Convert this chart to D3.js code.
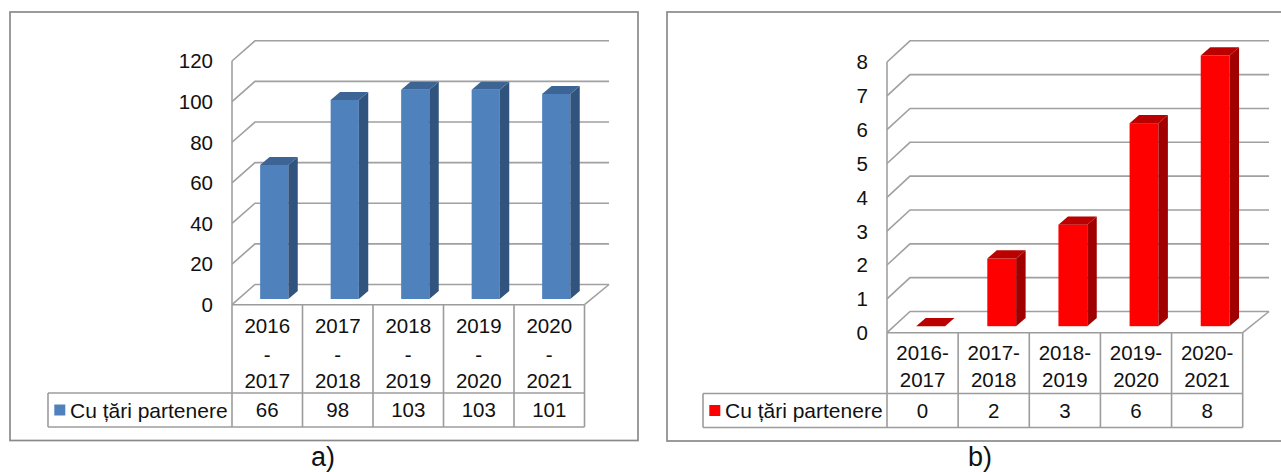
<!DOCTYPE html>
<html><head><meta charset="utf-8">
<script src="https://cdn.jsdelivr.net/npm/d3@7"></script>
<style>html,body{margin:0;padding:0;background:#fff;overflow:hidden}svg{display:block}text{font-family:"Liberation Sans",Arial,sans-serif;fill:#111}</style>
</head><body><svg id="c" width="1281" height="472"></svg>
<script>
const seriesName = "Cu țări partenere";
const categoriesA = [["2016","-","2017"],["2017","-","2018"],["2018","-","2019"],["2019","-","2020"],["2020","-","2021"]];
const valuesA = [66,98,103,103,101];
const ticksA = [0,20,40,60,80,100,120];
const categoriesB = [["2016-","2017"],["2017-","2018"],["2018-","2019"],["2019-","2020"],["2020-","2021"]];
const valuesB = [0,2,3,6,8];
const ticksB = [0,1,2,3,4,5,6,7,8];

const svg = d3.select("#c");
const GRID = "#a0a0a0", FRAME = "#8a8a8a", TABLE = "#9c9c9c";

function panel(o){
  const g = svg.append("g");
  const line = (x1,y1,x2,y2,c,w)=>g.append("line").attr("x1",x1).attr("y1",y1).attr("x2",x2).attr("y2",y2).attr("stroke",c).attr("stroke-width",w);
  g.append("rect").attr("x",o.frame[0]).attr("y",o.frame[1]).attr("width",o.frame[2]-o.frame[0]).attr("height",o.frame[3]-o.frame[1])
    .attr("fill","#fff").attr("stroke",FRAME).attr("stroke-width",1.7);

  const x = d3.scaleBand().domain(o.cats.map((d,i)=>i)).range([o.left,o.right]).padding(0);
  const y = d3.scaleLinear().domain([0,d3.max(o.ticks)]).range([o.bottom,o.top]);
  const back = o.ddx, rise = o.ddy;
  // walls
  o.ticks.forEach(t=>{
    const yy = y(t);
    g.append("path").attr("fill","none").attr("stroke",GRID).attr("stroke-width",1.6)
      .attr("d",d3.line()([[o.left,yy],[o.left+back,yy-rise],[o.backRight,yy-rise]]));
  });
  line(o.left,o.top,o.left,o.bottom,GRID,1.6);
  g.append("path").attr("fill","none").attr("stroke",GRID).attr("stroke-width",1.6)
    .attr("d",d3.line()([[o.right,o.bottom],[o.backRight,o.bottom-rise]]));
  // axis labels
  g.selectAll(".yl").data(o.ticks).join("text").attr("class","yl")
    .attr("x",o.left-19).attr("y",d=>y(d)).attr("dy","0.36em").attr("text-anchor","end").attr("font-size",o.fs).text(d=>d);
  // bars
  const bw = x.bandwidth()*o.barFrac;
  const offX = o.barOff, offY = o.barRise, bdx = o.bdx, bdy = o.bdy;
  const bars = g.selectAll(".bar").data(o.vals).join("g").attr("class","bar");
  const k = (y(0)-y(1));
  bars.each(function(v,i){
    const b = d3.select(this);
    const x0 = x(i)+(x.bandwidth()-bw)/2+offX, x1 = x0+bw;
    const y0 = y(0)-offY, yt = y0-v*k;
    if(v>0){
      b.append("rect").attr("x",x0).attr("y",yt).attr("width",bw).attr("height",y0-yt).attr("fill",o.front);
      b.append("path").attr("fill",o.side).attr("d",d3.line()([[x1,yt],[x1+bdx,yt-bdy],[x1+bdx,y0-bdy],[x1,y0]])+"Z");
    }
    b.append("path").attr("fill",o.topc).attr("d",d3.line()([[x0,yt],[x0+bdx,yt-bdy],[x1+bdx,yt-bdy],[x1,yt]])+"Z");
  });
  // data table
  const tb = o.tableBottom, tm = o.tableMid, t0 = y(0);
  line(o.left,t0,o.right,t0,TABLE,1.6);
  line(o.legendLeft,tm,o.right,tm,TABLE,1.6);
  line(o.legendLeft,tb,o.right,tb,TABLE,1.6);
  line(o.legendLeft,tm,o.legendLeft,tb,TABLE,1.6);
  o.cats.forEach((c,i)=>{ line(x(i),t0,x(i),tb,TABLE,1.6); });
  line(o.right,t0,o.right,tb,TABLE,1.6);
  o.cats.forEach((c,i)=>{
    const cx = x(i)+x.bandwidth()/2;
    c.forEach((s,j)=>g.append("text").attr("x",cx).attr("y",o.catY[j]).attr("dy","0.36em").attr("text-anchor","middle").attr("font-size",o.fs).text(s));
    g.append("text").attr("x",cx).attr("y",(tm+tb)/2).attr("dy","0.36em").attr("text-anchor","middle").attr("font-size",o.fs).text(o.vals[i]);
  });
  g.append("rect").attr("x",o.legendLeft+6.3).attr("y",(tm+tb)/2-5.5).attr("width",11).attr("height",11).attr("fill",o.front);
  g.append("text").attr("x",o.legendLeft+22).attr("y",(tm+tb)/2).attr("dy","0.36em").attr("font-size",21).text(seriesName);
  g.append("text").attr("x",o.capX).attr("y",466).attr("text-anchor","middle").attr("font-size",27).text(o.cap);
}

panel({frame:[10,12,638,440.5],cats:categoriesA,vals:valuesA,ticks:ticksA,left:232,right:584.5,top:61,bottom:304.7,
  ddx:23,ddy:20.2,backRight:609,barFrac:0.4,barOff:7,barRise:5.7,bdx:9.4,bdy:8,front:"#4f81bd",side:"#30547d",topc:"#3c6595",
  tableMid:393,tableBottom:427,legendLeft:48,catY:[326,355,381],fs:20.5,capX:323,cap:"a)"});
panel({frame:[667,12,1290,441],cats:categoriesB,vals:valuesB,ticks:ticksB,left:887,right:1242.7,top:62,bottom:332.7,
  ddx:23,ddy:21.2,backRight:1269,barFrac:0.405,barOff:8,barRise:6.5,bdx:9.5,bdy:8.3,front:"#ff0000",side:"#a00000",topc:"#bb0000",
  tableMid:393.5,tableBottom:427.5,legendLeft:703,catY:[353,380],fs:20.5,capX:980,cap:"b)"});
</script></body></html>
